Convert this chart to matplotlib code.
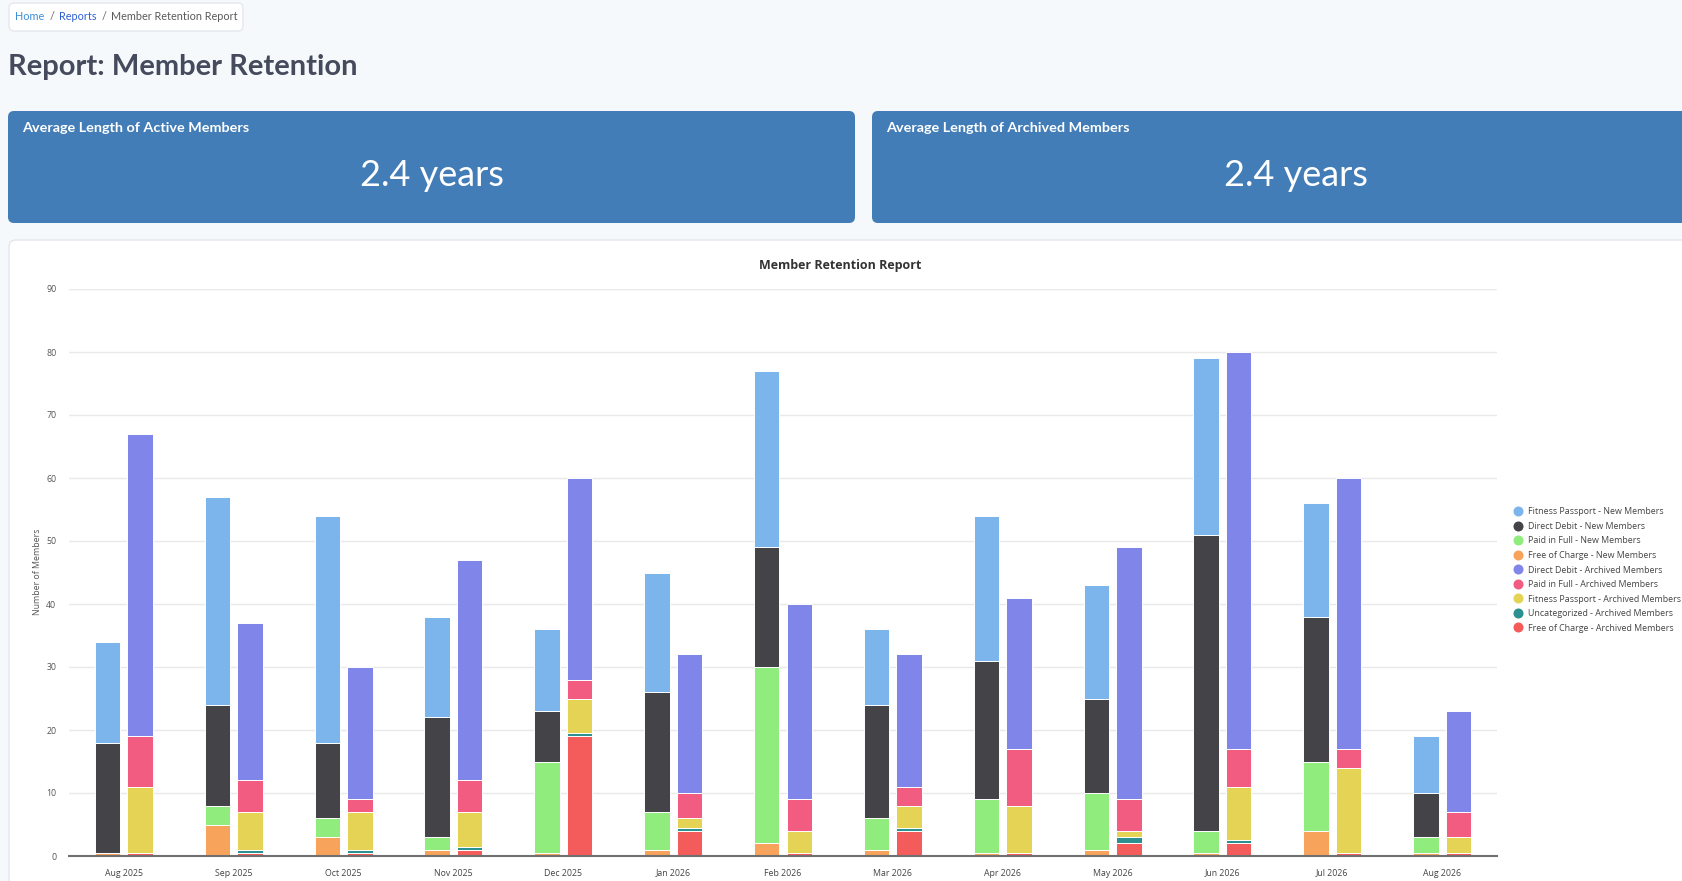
import matplotlib
matplotlib.use("Agg")
import matplotlib.pyplot as plt
from matplotlib.patches import FancyBboxPatch
from matplotlib.lines import Line2D
import numpy as np

# ---------------- data ----------------
months = ['Aug 2025', 'Sep 2025', 'Oct 2025', 'Nov 2025', 'Dec 2025', 'Jan 2026', 'Feb 2026',
          'Mar 2026', 'Apr 2026', 'May 2026', 'Jun 2026', 'Jul 2026', 'Aug 2026']

# New Members stack (legend order; first = top of stack)
fitness_passport_new = [16, 33, 36, 16, 13, 19, 28, 12, 23, 18, 28, 18, 9]
direct_debit_new     = [17.5, 16, 12, 19, 8, 19, 19, 18, 22, 15, 47, 23, 7]
paid_in_full_new     = [0, 3, 3, 2, 14.5, 6, 28, 5, 8.5, 9, 3.5, 11, 2.5]
free_of_charge_new   = [0.5, 5, 3, 1, 0.5, 1, 2, 1, 0.5, 1, 0.5, 4, 0.5]

# Archived Members stack
direct_debit_arch     = [48, 25, 21, 35, 32, 22, 31, 21, 24, 40, 63, 43, 16]
paid_in_full_arch     = [8, 5, 2, 5, 3, 4, 5, 3, 9, 5, 6, 3, 4]
fitness_passport_arch = [10.5, 6, 6, 5.5, 5.5, 1.5, 3.5, 3.5, 7.5, 1, 8.5, 13.5, 2.5]
uncategorized_arch    = [0, 0.5, 0.5, 0.5, 0.5, 0.5, 0, 0.5, 0, 1, 0.5, 0, 0]
free_of_charge_arch   = [0.5, 0.5, 0.5, 1, 19, 4, 0.5, 4, 0.5, 2, 2, 0.5, 0.5]

series_labels = ['Fitness Passport - New Members', 'Direct Debit - New Members',
                 'Paid in Full - New Members', 'Free of Charge - New Members',
                 'Direct Debit - Archived Members', 'Paid in Full - Archived Members',
                 'Fitness Passport - Archived Members', 'Uncategorized - Archived Members',
                 'Free of Charge - Archived Members']
series_colors = ['#7cb5ec', '#434348', '#90ed7d', '#f7a35c', '#8085e9',
                 '#f15c80', '#e4d354', '#2b908f', '#f45b5b']

yticks = list(range(0, 91, 10))

active_avg_text = '2.4 years'
archived_avg_text = '2.4 years'

# ---------------- figure ----------------
W, H = 1682, 881
fig = plt.figure(figsize=(W / 100, H / 100), dpi=100)
fig.patch.set_facecolor('#f6f9fc')


def fx(x):
    return x / W


def fy(y):
    return 1 - y / H


def rect(x0, y0, x1, y1, fc, ec='none', r=6, lw=1.0, z=-5):
    p = FancyBboxPatch((fx(x0), fy(y1)), fx(x1) - fx(x0), fy(y0) - fy(y1),
                       boxstyle="round,pad=0,rounding_size=%f" % (r / W),
                       transform=fig.transFigure, facecolor=fc, edgecolor=ec,
                       linewidth=lw, zorder=z, mutation_aspect=W / H)
    fig.patches.append(p)


page_font = ['Lato', 'DejaVu Sans']
chart_font = ['Open Sans', 'DejaVu Sans']

# breadcrumb
rect(9, 3, 243, 31, 'white', ec='#e4e8ee', r=5)
fs_bc = 7.8
fig.text(fx(15), fy(17), 'Home', color='#3b8fd8', fontsize=fs_bc, family=page_font, va='center')
fig.text(fx(50), fy(17), '/', color='#666666', fontsize=fs_bc, family=page_font, va='center')
fig.text(fx(59), fy(17), 'Reports', color='#2f5fd0', fontsize=fs_bc, family=page_font, va='center')
fig.text(fx(102), fy(17), '/', color='#666666', fontsize=fs_bc, family=page_font, va='center')
fig.text(fx(111), fy(17), 'Member Retention Report', color='#5a5a5a', fontsize=fs_bc,
         family=page_font, va='center')

# page title
fig.text(fx(8), fy(75), 'Report: Member Retention', color='#454a5c', fontsize=21,
         fontweight='bold', family=page_font, va='baseline')

# KPI cards
card_color = '#427db7'
rect(8, 111, 855, 223, card_color, r=6)
rect(872, 111, 1719, 223, card_color, r=6)
fig.text(fx(22), fy(128), 'Average Length of Active Members', color='white', fontsize=10.4,
         fontweight='bold', family=page_font, va='center')
fig.text(fx(886), fy(128), 'Average Length of Archived Members', color='white', fontsize=10.4,
         fontweight='bold', family=page_font, va='center')
fig.text(fx(431.5), fy(175), active_avg_text, color='white', fontsize=26,
         family=page_font, va='center', ha='center')
fig.text(fx(1295.5), fy(175), archived_avg_text, color='white', fontsize=26,
         family=page_font, va='center', ha='center')

# chart panel
rect(9, 240, 1700, 900, 'white', ec='#e2e7ee', r=7)

fig.text(fx(840), fy(265), 'Member Retention Report', color='#333333', fontsize=9,
         fontweight='bold', family=chart_font, va='center', ha='center')

# ---------------- chart ----------------
ax = fig.add_axes([fx(69), fy(856), fx(1497) - fx(69), fy(289) - fy(856)])
ax.set_zorder(2)
ax.patch.set_visible(False)

x = np.arange(len(months))
bw = 0.232
off = 0.148

new_stack = [free_of_charge_new, paid_in_full_new, direct_debit_new, fitness_passport_new]
new_cols = [series_colors[3], series_colors[2], series_colors[1], series_colors[0]]
bottom = np.zeros(len(months))
for vals, c in zip(new_stack, new_cols):
    v = np.array(vals, dtype=float)
    ax.bar(x - off, v, bw, bottom=bottom, color=c, edgecolor='white', linewidth=0.7, zorder=3)
    bottom += v

arch_stack = [free_of_charge_arch, uncategorized_arch, fitness_passport_arch,
              paid_in_full_arch, direct_debit_arch]
arch_cols = [series_colors[8], series_colors[7], series_colors[6], series_colors[5], series_colors[4]]
bottom = np.zeros(len(months))
for vals, c in zip(arch_stack, arch_cols):
    v = np.array(vals, dtype=float)
    ax.bar(x + off, v, bw, bottom=bottom, color=c, edgecolor='white', linewidth=0.7, zorder=3)
    bottom += v

ax.set_xlim(-0.5, len(months) - 0.5)
ax.set_ylim(0, 90)
ax.set_yticks(yticks)
ax.set_xticks(x)
ax.set_xticklabels(months)
ax.grid(axis='y', color='#e9e9e9', linewidth=1.0, zorder=0)
ax.set_axisbelow(True)
for s in ['top', 'right', 'left']:
    ax.spines[s].set_visible(False)
ax.spines['bottom'].set_color('#707070')
ax.spines['bottom'].set_linewidth(1.5)
ax.spines['bottom'].set_zorder(4)
ax.tick_params(axis='y', length=0, pad=9, labelsize=6.3, labelcolor='#555555')
ax.tick_params(axis='x', length=0, pad=9, labelsize=6.3, labelcolor='#444444')
for lbl in ax.get_xticklabels() + ax.get_yticklabels():
    lbl.set_family(chart_font)

fig.text(fx(37), fy(572), 'Number of Members', rotation=90, color='#555555', fontsize=6.3,
         family=chart_font, va='center', ha='center', zorder=3)

# legend
handles = [Line2D([], [], marker='o', linestyle='', markersize=6.2, color=c) for c in series_colors]
leg = fig.legend(handles, series_labels, loc='center left',
                 bbox_to_anchor=(fx(1514), fy(570)), frameon=False,
                 handlelength=1.0, handletextpad=0.55, labelspacing=0.62, borderpad=0,
                 borderaxespad=0, prop={'family': chart_font, 'size': 6.4})
leg.set_zorder(3)
for t in leg.get_texts():
    t.set_color('#444444')

fig.savefig('out.png', dpi=100, facecolor=fig.get_facecolor())
